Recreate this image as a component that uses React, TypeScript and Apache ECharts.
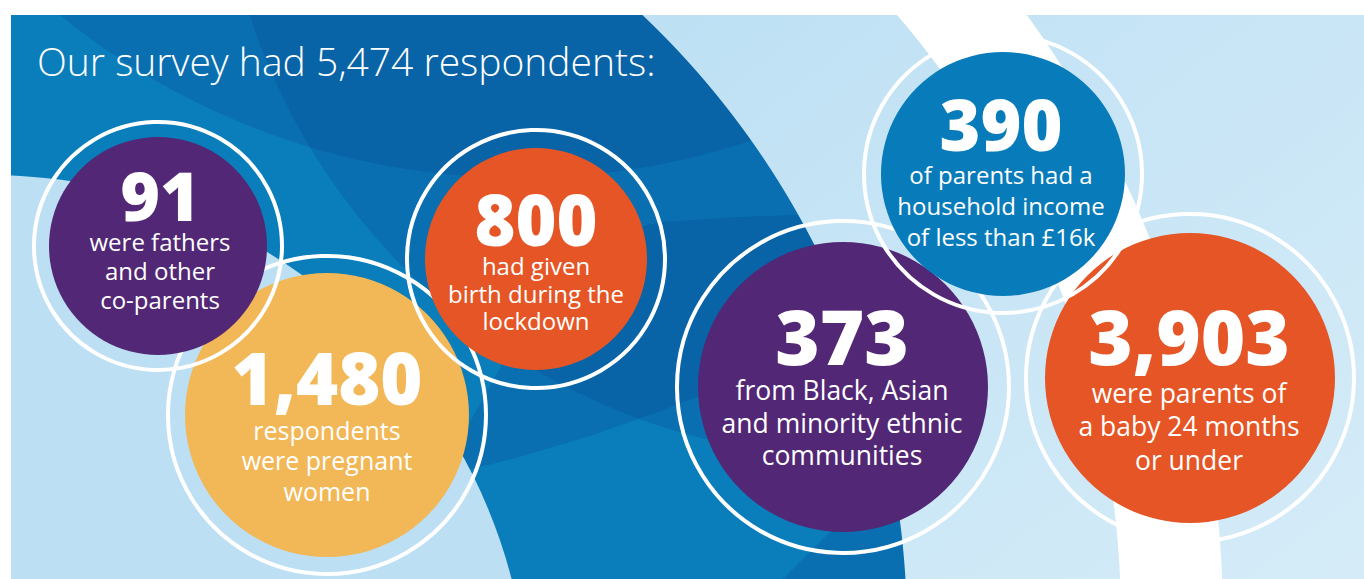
import React, { useEffect, useRef } from "react";
import * as echarts from "echarts";

// ---- content ----
const titleText = "Our survey had 5,474 respondents:";
const statValues = ["1,480", "91", "800", "373", "3,903", "390"];
const statCaptions = [
  ["respondents", "were pregnant", "women"],
  ["were fathers", "and other", "co-parents"],
  ["had given", "birth during the", "lockdown"],
  ["from Black, Asian", "and minority ethnic", "communities"],
  ["were parents of", "a baby 24 months", "or under"],
  ["of parents had a", "household income", "of less than £16k"],
];

// ---- layout / style ----
const bubbleCenters = [
  [327, 415],
  [158, 246],
  [536, 259],
  [843, 387],
  [1190, 378],
  [1003, 174],
];
const diskRadii = [142, 109, 111, 145, 145, 122];
const ringRadii = [159, 124, 129, 166, 164, 139];
const bubbleColors = ["#f2b756", "#522775", "#e55525", "#522775", "#e55525", "#087cba"];
const numberX = [327, 160, 536, 842, 1189, 1001];
const numberY = [377, 194, 219, 335, 335, 124];
const numberSizes = [72, 68, 70, 76, 76, 70];
const captionSizes = [25, 24, 24, 26.5, 26.5, 24];
const captionY = [
  [430, 460, 491],
  [241, 270, 299],
  [265, 293, 320],
  [389.5, 422.5, 454.5],
  [392.5, 425.5, 459.5],
  [174, 205, 236],
];

const FONT = "'Open Sans', 'Noto Sans', sans-serif";

function arcX(cx: number, cy: number, r: number, y: number) {
  const d = r * r - (y - cy) * (y - cy);
  return d > 0 ? cx + Math.sqrt(d) : cx;
}

function buildBackground(): any[] {
  const els: any[] = [];
  const overlay = "rgba(3,55,135,0.2)";
  // base mid blue
  els.push({ type: "rect", shape: { x: 0, y: 0, width: 1400, height: 600 }, style: { fill: "#0a7dbb" } });
  // overlay discs / regions (darker sectors)
  els.push({ type: "circle", shape: { cx: 860, cy: -184, r: 642 }, style: { fill: overlay } });
  els.push({ type: "circle", shape: { cx: 520, cy: -553, r: 731 }, style: { fill: overlay } });
  const regionC: number[][] = [
    [900, 212], [820, 214], [740, 217], [660, 222], [620, 232], [570, 270], [510, 350], [460, 440],
  ];
  for (let x = 440; x <= 900; x += 10) {
    regionC.push([x, -1037 + Math.sqrt(1548 * 1548 - (x - 113) * (x - 113))]);
  }
  els.push({ type: "polygon", shape: { points: regionC }, style: { fill: overlay } });
  els.push({
    type: "polygon",
    shape: { points: [[783, 579], [835, 527], [880, 505], [940, 505], [940, 600], [770, 600]] },
    style: { fill: overlay },
  });
  // left light-blue disc
  els.push({ type: "circle", shape: { cx: -11, cy: 715, r: 540 }, style: { fill: "#bddff3" } });
  // right light area (outside the big dark disc)
  const right: number[][] = [];
  for (let y = 0; y <= 600; y += 5) right.push([arcX(60, 630, 847, y), y]);
  right.push([1400, 600], [1400, 0]);
  els.push({
    type: "polygon",
    shape: { points: right },
    style: {
      fill: new echarts.graphic.LinearGradient(0, 0, 1, 1, [
        { offset: 0, color: "#bde0f4" },
        { offset: 1, color: "#d6ecf8" },
      ]),
    },
  });
  // white band
  const band: number[][] = [];
  for (let y = 0; y <= 600; y += 5) band.push([arcX(192, 620, 1031, y), y]);
  for (let y = 600; y >= 0; y -= 5) band.push([arcX(192, 620, 929, y), y]);
  els.push({ type: "polygon", shape: { points: band }, style: { fill: "#ffffff" } });
  return els;
}

function buildBubbles(): any[] {
  const els: any[] = [];
  statValues.forEach((_, i) => {
    const [cx, cy] = bubbleCenters[i];
    els.push({ type: "circle", shape: { cx, cy, r: diskRadii[i] }, style: { fill: bubbleColors[i] } });
    els.push({
      type: "circle",
      shape: { cx, cy, r: ringRadii[i] },
      style: { fill: "none", stroke: "#ffffff", lineWidth: 4 },
    });
  });
  return els;
}

function textEl(text: string, x: number, y: number, size: number, weight: any, align = "center") {
  return {
    type: "text",
    x,
    y,
    style: {
      text,
      fill: "#ffffff",
      font: `${weight} ${size}px ${FONT}`,
      fontSize: size,
      fontFamily: FONT,
      fontWeight: weight,
      lineHeight: Math.round(size * 1.05),
      align,
      textAlign: align,
      verticalAlign: "middle",
      textVerticalAlign: "middle",
    },
  };
}

function buildTexts(): any[] {
  const els: any[] = [];
  els.push(textEl(titleText, 37, 60, 39, 300, "left"));
  statValues.forEach((v, i) => {
    els.push(textEl(v, numberX[i], numberY[i], numberSizes[i], 800));
    statCaptions[i].forEach((line, j) => {
      els.push(textEl(line, numberX[i], captionY[i][j], captionSizes[i], 400));
    });
  });
  return els;
}

export default function App() {
  const ref = useRef<HTMLDivElement>(null);
  useEffect(() => {
    if (!ref.current) return;
    const chart = echarts.init(ref.current, null, { renderer: "svg" });
    const elements = [
      ...buildBackground(),
      ...buildBubbles(),
      { type: "rect", shape: { x: 0, y: 0, width: 1400, height: 15 }, style: { fill: "#ffffff" } },
      { type: "rect", shape: { x: 0, y: 0, width: 11, height: 600 }, style: { fill: "#ffffff" } },
      ...buildTexts(),
    ];
    chart.setOption({
      animation: false,
      graphic: { elements },
    });
    return () => chart.dispose();
  }, []);
  return (
    <div
      ref={ref}
      style={{ position: "fixed", left: 0, top: 0, width: 1364, height: 579, background: "#ffffff" }}
    />
  );
}
